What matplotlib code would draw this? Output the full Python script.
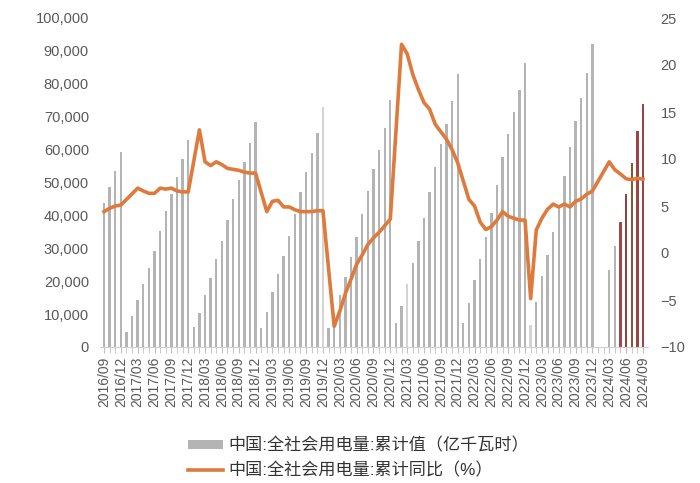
import numpy as np
import matplotlib
matplotlib.use("Agg")
import matplotlib.pyplot as plt
from matplotlib.patches import Patch
from matplotlib.lines import Line2D
from matplotlib.ticker import FuncFormatter, MultipleLocator

plt.rcParams['font.family'] = ['Liberation Sans', 'Noto Sans CJK SC', 'DejaVu Sans']

# months 2016/09 .. 2024/09
months = [f"{y}/{m:02d}" for y in range(2016, 2025) for m in range(1, 13)]
months = months[months.index("2016/09"):months.index("2024/09") + 1]

# cumulative consumption, 亿千瓦时 (None = no data)
total = [
    43900, 48700, 53600, 59200,                                                   # 2016/09-12
    4700, 9400, 14300, 19200, 23900, 29300, 35300, 41400, 46500, 51800, 57100, 63000,   # 2017
    6000, 10400, 15800, 20900, 26600, 32300, 38600, 45000, 50700, 56300, 62100, 68400,  # 2018
    5800, 10700, 16800, 22200, 27700, 33700, 40400, 47000, 53100, 59000, 65000, 72800,  # 2019
    5700, 10200, 15700, 21300, 27400, 33500, 40300, 47400, 54000, 60000, 66500, 75000,  # 2020
    7300, 12500, 19300, 25600, 32300, 39200, 47000, 54600, 61600, 67900, 74800, 83000,  # 2021
    7200, 13500, 20400, 26600, 33400, 40800, 49300, 57800, 64800, 71400, 78200, 86300,  # 2022
    6700, 13800, 21500, 27900, 35100, 43000, 51900, 60700, 68600, 75600, 83400, 92000,  # 2023
    None, None, 23400, 30700, 38000, 46500, 55900, 65700, 74000,                        # 2024
]

# cumulative YoY, %
yoy = [
    4.4, 4.75, 5.0, 5.1,
    None, 6.3, 6.9, 6.6, 6.35, 6.35, 6.9, 6.8, 6.9, 6.6, 6.5, 6.5,
    None, 13.1, 9.7, 9.3, 9.7, 9.4, 9.0, 8.9, 8.8, 8.6, 8.5, 8.5,
    None, 4.4, 5.5, 5.6, 4.9, 4.9, 4.6, 4.4, 4.4, 4.4, 4.5, 4.5,
    None, -7.8, -6.2, -4.3, -2.8, -1.2, -0.2, 0.9, 1.6, 2.2, 2.9, 3.6,
    None, 22.2, 21.2, 19.0, 17.4, 16.0, 15.3, 13.7, 12.9, 12.1, 11.0, 9.6,
    None, 5.7, 5.0, 3.3, 2.5, 2.8, 3.5, 4.4, 3.9, 3.7, 3.5, 3.5,
    -4.85, 2.45, 3.7, 4.65, 5.2, 4.9, 5.2, 4.9, 5.5, 5.75, 6.25, 6.6,
    None, None, 9.7, 8.85, 8.4, 7.9, 7.8, 7.95, 7.85,
]

light_months = ["2019/12", "2021/03", "2023/01"]
highlight = {"2024/05": "#A04848", "2024/06": "#94403F", "2024/07": "#8A5530",
             "2024/08": "#9A4444", "2024/09": "#9A4444"}

label_bar = "中国:全社会用电量:累计值（亿千瓦时）"
label_line = "中国:全社会用电量:累计同比（%）"

x = np.arange(len(months))
tot = np.array([np.nan if v is None else v for v in total], dtype=float)
yy = np.array([np.nan if v is None else v for v in yoy], dtype=float)
colors = []
for m in months:
    if m in highlight:
        colors.append(highlight[m])
    elif m in light_months:
        colors.append("#D4D4D4")
    else:
        colors.append("#B4B4B4")

fig = plt.figure(figsize=(7, 4.83), dpi=100)
ax = fig.add_axes([100/700, 1 - 347/483, 548/700, 329/483])
ax.bar(x, np.nan_to_num(tot), width=0.42, color=colors, linewidth=0)
ax.set_xlim(-0.71, 96.9)
ax.set_ylim(0, 100000)
ax.set_yticks(np.arange(0, 100001, 10000))
ax.yaxis.set_major_formatter(FuncFormatter(lambda v, p: f"{v:,.0f}"))
ax.set_xticks(x[::3])
ax.set_xticklabels(months[::3], rotation=90)
ax.xaxis.set_minor_locator(MultipleLocator(1))
ax.tick_params(axis='x', which='both', length=4, color='#BFBFBF', labelsize=10,
               labelcolor='#595959', pad=3)
ax.tick_params(axis='y', length=0, labelsize=10.5, labelcolor='#595959', pad=8)
for s in ['top', 'left', 'right']:
    ax.spines[s].set_visible(False)
ax.spines['bottom'].set_color('#D0D0D0')

ax2 = ax.twinx()
mask = ~np.isnan(yy)
ax2.plot(x[mask], yy[mask], color='#DE7B3C', linewidth=2.6, solid_joinstyle='round')
ax2.set_ylim(-10, 25)
ax2.set_yticks(np.arange(-10, 26, 5))
ax2.tick_params(axis='y', length=0, labelsize=10.5, labelcolor='#595959', pad=9)
for s in ax2.spines.values():
    s.set_visible(False)

handles = [Patch(color='#B4B4B4', linewidth=0),
           Line2D([0], [0], color='#DE7B3C', linewidth=2.6)]
leg = fig.legend(handles, [label_bar, label_line], loc='upper left',
                 bbox_to_anchor=(173/700, 1 - 422/483), frameon=False, fontsize=12.3,
                 handlelength=2.0, handleheight=0.42, handletextpad=0.35, labelspacing=0.5)
for t in leg.get_texts():
    t.set_color('#333333')

fig.savefig("out.png", dpi=100)
